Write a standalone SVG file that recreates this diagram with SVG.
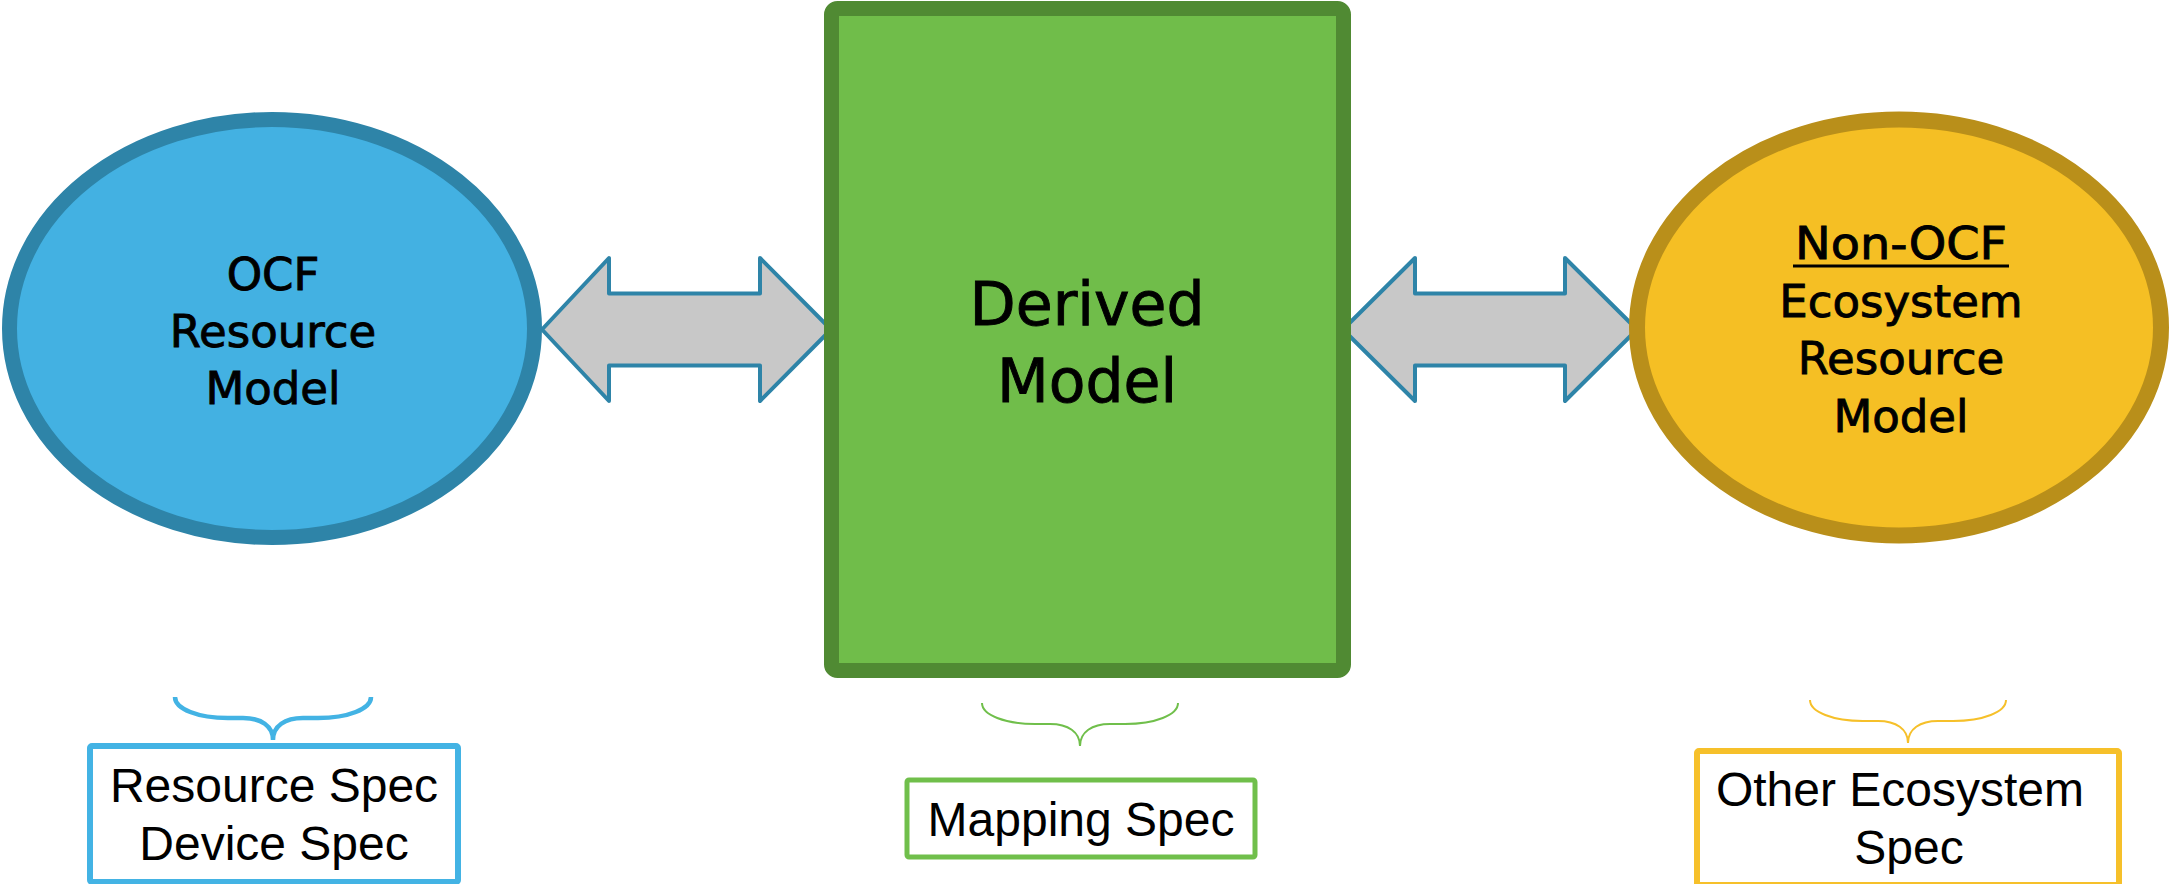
<svg xmlns="http://www.w3.org/2000/svg" width="2172" height="884" viewBox="0 0 2172 884">
<defs>
<style>
.big{font-family:"DejaVu Sans","Liberation Sans",sans-serif;font-size:45px;fill:#000;stroke:#000;stroke-width:0.9;text-anchor:middle}
.der{font-family:"DejaVu Sans","Liberation Sans",sans-serif;font-size:60px;fill:#000;stroke:#000;stroke-width:0.9;text-anchor:middle}
.spec{font-family:"Liberation Sans",Arial,sans-serif;font-size:48px;fill:#000;text-anchor:middle}
.arrow{fill:#C8C8C8;stroke:#2E84A8;stroke-width:4;stroke-linejoin:round}
</style>
<path id="bracePath" d="M -98,0 C -98,12 -75,21 -45,21 L -30,21 C -12,21 0,29 0,43 C 0,29 12,21 30,21 L 45,21 C 75,21 98,12 98,0"/>
</defs>
<rect width="2172" height="884" fill="#FFFFFF"/>

<g id="connectors">
<path class="arrow" d="M 542,329.5 L 609,258 L 609,293.5 L 760,293.5 L 760,258 L 831,329.5 L 760,401 L 760,365.5 L 609,365.5 L 609,401 Z"/>
<path class="arrow" d="M 1343,329.5 L 1415,258 L 1415,293.5 L 1565,293.5 L 1565,258 L 1637,329.5 L 1565,401 L 1565,365.5 L 1415,365.5 L 1415,401 Z"/>
<use href="#bracePath" transform="translate(273,697)" stroke="#43B3E4" stroke-width="4.5" fill="none"/>
<use href="#bracePath" transform="translate(1080,703)" stroke="#70BF4B" stroke-width="2" fill="none"/>
<use href="#bracePath" transform="translate(1908,700)" stroke="#F6C02A" stroke-width="2" fill="none"/>
</g>

<g id="ocf-model">
<ellipse cx="272" cy="328.5" rx="262.5" ry="209" fill="#43B1E2" stroke="#2E84A8" stroke-width="15"/>
<text class="big" x="273" y="290">OCF</text>
<text class="big" x="273" y="347">Resource</text>
<text class="big" x="273" y="404">Model</text>
</g>

<g id="derived-model">
<rect x="831.5" y="8.5" width="512" height="662" rx="6" fill="#70BD4A" stroke="#508A33" stroke-width="15"/>
<text class="der" x="1087" y="325">Derived</text>
<text class="der" x="1087" y="402">Model</text>
</g>

<g id="non-ocf-model">
<ellipse cx="1899" cy="327.5" rx="262" ry="208" fill="#F5BF24" stroke="#B98F1A" stroke-width="16"/>
<text class="big" x="1901" y="259" textLength="212" lengthAdjust="spacingAndGlyphs">Non-OCF</text>
<rect x="1793" y="264.5" width="216" height="3" fill="#000"/>
<text class="big" x="1901" y="317">Ecosystem</text>
<text class="big" x="1901" y="374">Resource</text>
<text class="big" x="1901" y="432">Model</text>
</g>

<g id="resource-spec">
<rect x="90" y="746" width="368" height="136" rx="2" fill="#FFFFFF" stroke="#43B3E4" stroke-width="6"/>
<text class="spec" x="274" y="802">Resource Spec</text>
<text class="spec" x="274" y="860">Device Spec</text>
</g>

<g id="mapping-spec">
<rect x="907" y="780" width="348" height="77" rx="2" fill="#FFFFFF" stroke="#70BF4B" stroke-width="5"/>
<text class="spec" x="1081" y="836">Mapping Spec</text>
</g>

<g id="other-spec">
<rect x="1697" y="751" width="422" height="134" rx="2" fill="#FFFFFF" stroke="#F6C02A" stroke-width="6"/>
<text class="spec" x="1900" y="806">Other Ecosystem</text>
<text class="spec" x="1909" y="864">Spec</text>
</g>
</svg>
